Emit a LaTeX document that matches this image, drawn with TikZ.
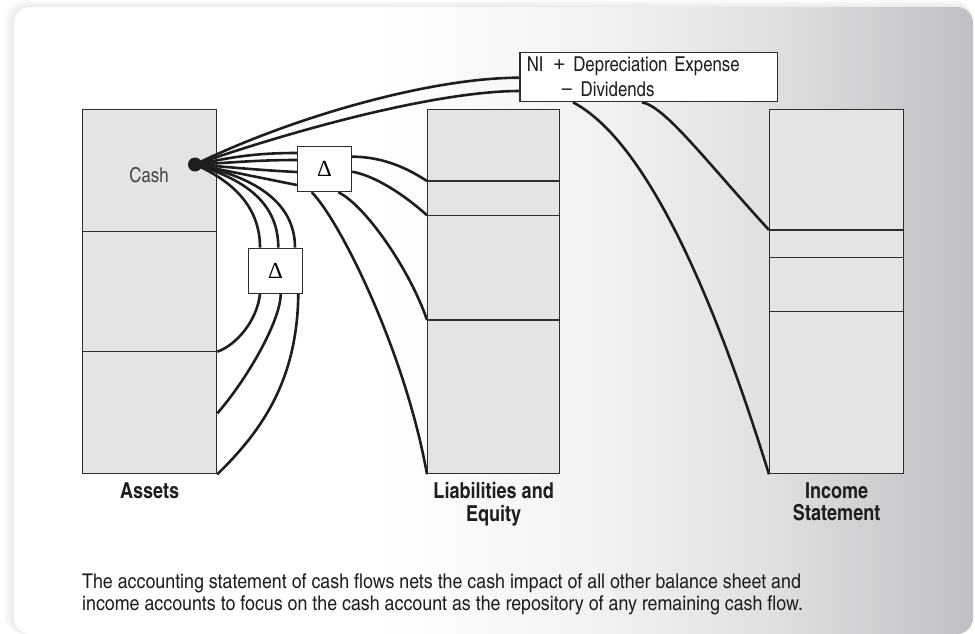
\documentclass[tikz,border=0pt]{standalone}
\usepackage{fontspec}
\setmainfont{texgyreheroscn-regular.otf}[BoldFont=texgyreheroscn-bold.otf]
\newfontfamily\capfont{texgyreheroscn-regular.otf}[FakeStretch=1.07]
\newfontfamily\opfont{Liberation Sans}
\newfontfamily\deltafont{Liberation Serif}
\usetikzlibrary{calc}

\definecolor{boxfill}{HTML}{E3E4E6}
\definecolor{edge}{HTML}{2E2E2E}
\definecolor{ink}{HTML}{1E1E1E}
\definecolor{cashgray}{HTML}{444444}
\definecolor{bgA}{HTML}{F1F2F3}
\definecolor{bgB}{HTML}{DFE0E2}
\definecolor{bgC}{HTML}{BEC0C3}

\pgfdeclarelayer{bg}
\pgfdeclarelayer{boxes}
\pgfdeclarelayer{flows}
\pgfsetlayers{bg,boxes,flows,main}

\tikzset{
  acct/.style={draw=edge, fill=boxfill, line width=1.3pt, rectangle, inner sep=0pt,
    anchor=north west, minimum height=364pt},
  divider/.style={draw=edge, line width=1.3pt},
  deltabox/.style={draw=edge, fill=white, line width=1.3pt, minimum width=54pt,
    minimum height=45pt, inner sep=0pt, font=\deltafont\fontsize{23}{23}\selectfont},
  flow/.style={draw=ink, line width=2.6pt},
  lbl/.style={font=\bfseries\fontsize{22}{22.5}\selectfont, align=center, anchor=north,
    inner sep=0pt, text=ink},
}

\begin{document}
\begin{tikzpicture}[x=1pt,y=-1pt]
\useasboundingbox (0,0) rectangle (975,633);

% ---- panel with soft shadow and horizontal tint
\begin{pgfonlayer}{bg}
  \fill[white] (0,0) rectangle (975,633);
  \foreach \i in {1,...,10}
    \fill[black,opacity=0.008,rounded corners=18pt] (14-\i,7-0.7*\i) rectangle (973,634);
  \begin{scope}
    \clip[rounded corners=16pt] (14,7) rectangle (973,634);
    \fill[white] (14,7) rectangle (380,634);
    \shade[left color=white,right color=bgA] (379.5,7) rectangle (600,634);
    \shade[left color=bgA,right color=bgB] (599.5,7) rectangle (770,634);
    \shade[left color=bgB,right color=bgC] (769.5,7) rectangle (973,634);
  \end{scope}
\end{pgfonlayer}

% ---- account columns
\begin{pgfonlayer}{boxes}
\node[acct, minimum width=134pt] (assets) at (82,109) {};
\node[acct, minimum width=132pt] (liab)   at (427,109) {};
\node[acct, minimum width=134pt] (income) at (769,109) {};

% divider points
\coordinate (ad1w) at ([yshift=-122.3pt]assets.north west);
\coordinate (ad1e) at ([yshift=-122.3pt]assets.north east);
\coordinate (ad2w) at ([yshift=-242.7pt]assets.north west);
\coordinate (ad2e) at ([yshift=-242.7pt]assets.north east);
\coordinate (alow) at ([yshift=-304.3pt]assets.north east);

\coordinate (ld1w) at ([yshift=-72pt]liab.north west);
\coordinate (ld1e) at ([yshift=-72pt]liab.north east);
\coordinate (ld2w) at ([yshift=-106.3pt]liab.north west);
\coordinate (ld2e) at ([yshift=-106.3pt]liab.north east);
\coordinate (ld3w) at ([yshift=-211pt]liab.north west);
\coordinate (ld3e) at ([yshift=-211pt]liab.north east);

\coordinate (id1w) at ([yshift=-121pt]income.north west);
\coordinate (id1e) at ([yshift=-121pt]income.north east);
\coordinate (id2w) at ([yshift=-148.7pt]income.north west);
\coordinate (id2e) at ([yshift=-148.7pt]income.north east);
\coordinate (id3w) at ([yshift=-202.7pt]income.north west);
\coordinate (id3e) at ([yshift=-202.7pt]income.north east);

\draw[divider] (ad1w) -- (ad1e);
\draw[divider] (ad2w) -- (ad2e);
\draw[divider] (ld1w) -- (ld1e);
\draw[divider] (ld2w) -- (ld2e);
\draw[divider] (ld3w) -- (ld3e);
\draw[divider] (id1w) -- (id1e);
\draw[divider] (id2w) -- (id2e);
\draw[divider] (id3w) -- (id3e);

\node[font=\fontsize{20.5}{20.5}\selectfont, text=cashgray, inner sep=0pt] (cashlbl) at (149,175) {Cash};
\end{pgfonlayer}

% ---- cash point and the change boxes
\node[circle, fill=ink, minimum size=14pt, inner sep=0pt] (cashdot) at (195,164.5) {};

\node[draw=edge, fill=white, line width=1.3pt, minimum width=257.7pt, minimum height=49.4pt,
      inner sep=0pt, text width=244pt, align=left, font=\fontsize{20.5}{25}\selectfont, text=ink]
      (ni) at (648.85,77) {NI\hspace{3pt} {\opfont +}\hspace{1pt} Depreciation Expense\\\hspace*{34pt}{\opfont −}\hspace{1pt} Dividends};

\node[deltabox] (d1) at (324.5,169.1) {Δ};
\node[deltabox] (d2) at (275.4,270.8) {Δ};

% ---- flows
\begin{pgfonlayer}{flows}
  % cash to net income box
  \draw[flow] (cashdot.center) .. controls +(95,-46.5) and +(-90,0) .. ([yshift=-0.7pt]ni.west);
  \draw[flow] (cashdot.center) .. controls +(105,-36.5) and +(-80,0) .. ([yshift=-14pt]ni.west);
  % cash to upper change box
  \draw[flow] (cashdot.center) .. controls +(40,-8) and +(-40,0) .. ([yshift=16.1pt]d1.west);
  \draw[flow] (cashdot.center) .. controls +(40,-2) and +(-40,0) .. ([yshift=9.1pt]d1.west);
  \draw[flow] (cashdot.center) .. controls +(40,3) and +(-40,-2) .. ([yshift=-2.9pt]d1.west);
  \draw[flow] (cashdot.center) .. controls +(40,8) and +(-40,-8) .. ([yshift=-15.9pt]d1.west);
  % cash to lower change box
  \draw[flow] (cashdot.center) .. controls +(35,15.5) and +(0,-43) .. ([xshift=-15.4pt]d2.north);
  \draw[flow] (cashdot.center) .. controls +(45,13.5) and +(0,-48) .. ([xshift=2.9pt]d2.north);
  \draw[flow] (cashdot.center) .. controls +(55,11.5) and +(0,-48) .. ([xshift=19.6pt]d2.north);
  % lower change box to other assets
  \draw[flow] ([xshift=-15.4pt]d2.south) .. controls +(-3,27) and +(19,-6.7) .. (ad2e);
  \draw[flow] ([xshift=5.3pt]d2.south) .. controls +(0,27) and +(29,-33) .. (alow);
  \draw[flow] ([xshift=22.9pt]d2.south) .. controls +(-1,87) and +(44,-43) .. (assets.south east);
  % upper change box to liabilities and equity
  \draw[flow] ([yshift=12.4pt]d1.east) .. controls +(33,0) and +(-17,-11) .. (ld1w);
  \draw[flow] ([yshift=-2.6pt]d1.east) .. controls +(23,4) and +(-22,-20) .. (ld2w);
  \draw[flow] ([xshift=13.8pt]d1.south) .. controls +(27,13) and +(-17,-50) .. (ld3w);
  \draw[flow] ([xshift=-12.8pt]d1.south) .. controls +(28,28) and +(-22,-123) .. (liab.south west);
  % net income box to income statement
  \draw[flow] ([xshift=-6.85pt]ni.south) .. controls +(23,4) and +(-64,-70) .. (id1w);
  \draw[flow] ([xshift=-75.85pt]ni.south) .. controls +(92,48) and +(-29,-93) .. (income.south west);
\end{pgfonlayer}

% ---- column titles and caption
\node[lbl] (assetslbl) at ([yshift=-8pt]assets.south) {Assets};
\node[lbl] (liablbl) at ([yshift=-8pt]liab.south) {Liabilities and\\Equity};
\node[lbl] (inclbl) at ([yshift=-8pt]income.south) {Income\\Statement};

\node[anchor=north west, inner sep=0pt, align=left, font=\capfont\fontsize{20.3}{21.5}\selectfont, text=ink]
  (caption) at (82,574) {The accounting statement of cash flows nets the cash impact of all other balance sheet and\\income accounts to focus on the cash account as the repository of any remaining cash flow.};
\end{tikzpicture}
\end{document}
